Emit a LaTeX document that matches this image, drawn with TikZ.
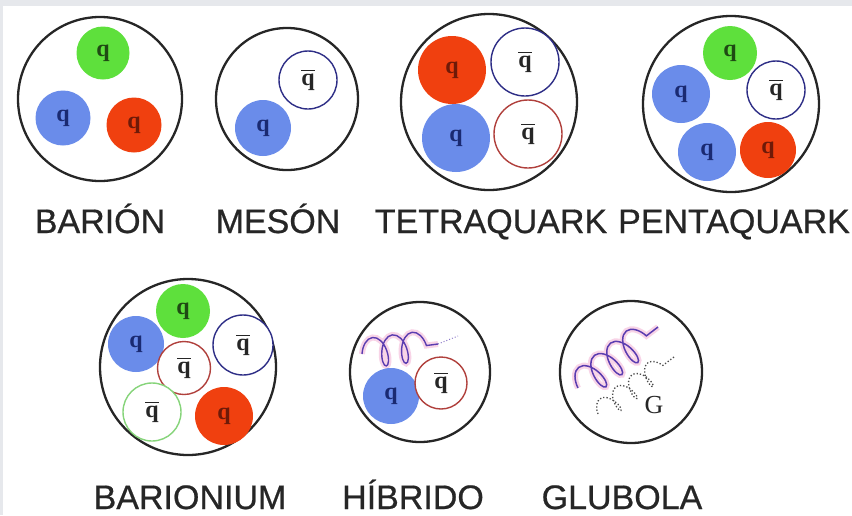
\documentclass[tikz,border=0pt]{standalone}
\usepackage{fontspec}
\setmainfont{Liberation Sans}
\newfontfamily\qfont{Liberation Serif}
\newfontfamily\labelfont[FakeBold=0.6]{Liberation Sans}
\usetikzlibrary{decorations.pathmorphing}

\definecolor{frame}{HTML}{E6E8EC}
\definecolor{qgreen}{HTML}{5EE03C}
\definecolor{qblue}{HTML}{6A8CEA}
\definecolor{qred}{HTML}{F0400F}
\definecolor{txgreen}{HTML}{1F4A14}
\definecolor{txblue}{HTML}{1A2A72}
\definecolor{txred}{HTML}{6E1A08}
\definecolor{abnavy}{HTML}{2E2E86}
\definecolor{abred}{HTML}{B0403C}
\definecolor{abgreen}{HTML}{86D47A}
\definecolor{gluon}{HTML}{5A3CB0}
\definecolor{gluonpink}{HTML}{F4B8D8}

% antiquark symbol: q with a bar over it
\newcommand\aq{\vbox{\hrule height 1.3pt\kern 3pt\hbox{q}}}

\begin{document}
\begin{tikzpicture}[x=1pt,y=-1pt,
  hadron/.style={circle, draw=black!85, line width=2.3pt, inner sep=0pt},
  quark/.style={circle, inner sep=0pt,
    font=\qfont\bfseries\fontsize{24}{24}\selectfont},
  qg/.style={quark, fill=qgreen, text=txgreen},
  qb/.style={quark, fill=qblue, text=txblue},
  qr/.style={quark, fill=qred, text=txred},
  anti/.style={quark, fill=white, line width=1.4pt, text=black!85},
  label/.style={font=\labelfont\fontsize{34}{34}\selectfont, text=black!85,
    anchor=base, inner sep=0pt},
  spring/.style={decorate, decoration={coil, amplitude=#1, segment length=20pt, aspect=0.5}}
]
\useasboundingbox (0,0) rectangle (852,515);
\fill[white] (0,0) rectangle (852,515);
\fill[frame] (0,0) rectangle (852,6);
\fill[frame] (0,0) rectangle (3,515);

% --- baryon
\node[hadron, minimum size=164pt] (barion) at (100,99) {};
\node[qg, minimum size=53pt] (b1) at (103,53) {q};
\node[qb, minimum size=55pt] (b2) at (63,118) {q};
\node[qr, minimum size=55pt] (b3) at (134,125) {q};
\node[label] (lbarion) at (100,233) {BARIÓN};

% --- meson
\node[hadron, minimum size=142pt] (meson) at (287,99) {};
\node[anti, draw=abnavy, minimum size=58pt] (m1) at (308,80) {\aq};
\node[qb, minimum size=56pt] (m2) at (263,128) {q};
\node[label] (lmeson) at (278,233) {MESÓN};

% --- tetraquark
\node[hadron, minimum size=176pt] (tetra) at (489,102) {};
\node[qr, minimum size=68pt] (t1) at (452,70) {q};
\node[qb, minimum size=68pt] (t2) at (456,138) {q};
\node[anti, draw=abnavy, minimum size=68pt] (t3) at (525,62) {\aq};
\node[anti, draw=abred, minimum size=68pt] (t4) at (528,134) {\aq};
\node[label] (ltetra) at (491,233) {TETRAQUARK};

% --- pentaquark
\node[hadron, minimum size=176pt] (penta) at (731,104) {};
\node[qg, minimum size=54pt] (p1) at (730,53) {q};
\node[qb, minimum size=58pt] (p2) at (681,94) {q};
\node[anti, draw=abnavy, minimum size=58pt] (p3) at (776,90) {\aq};
\node[qb, minimum size=58pt] (p4) at (707,152) {q};
\node[qr, minimum size=56pt] (p5) at (768,150) {q};
\node[label] (lpenta) at (734,233) {PENTAQUARK};

% --- baryonium
\node[hadron, minimum size=176pt] (barionium) at (188,367) {};
\node[qg, minimum size=54pt] (n1) at (183,311) {q};
\node[qb, minimum size=56pt] (n2) at (136,344) {q};
\node[anti, draw=abred, minimum size=53pt] (n3) at (184,368) {\aq};
\node[anti, draw=abnavy, minimum size=60pt] (n4) at (243,345) {\aq};
\node[anti, draw=abgreen, minimum size=58pt] (n5) at (152,412) {\aq};
\node[qr, minimum size=58pt] (n6) at (224,416) {q};
\node[label] (lbarionium) at (190,509) {BARIONIUM};

% --- hybrid
\node[hadron, minimum size=140pt] (hibrido) at (420,372) {};
\coordinate (hg1) at (362,354);
\coordinate (hg2) at (438,344);
\coordinate (hg3) at (458,336);
\draw[gluonpink, line width=6pt, opacity=0.6, spring=15pt] (hg1) -- (hg2);
\draw[gluon, line width=1.4pt, spring=15pt] (hg1) -- (hg2);
\draw[gluon!70, line width=1pt, dotted, spring=12pt] (hg2) -- (hg3);
\node[qb, minimum size=56pt] (h1) at (391,396) {q};
\node[anti, draw=abred, minimum size=52pt] (h2) at (441,383) {\aq};
\node[label] (lhibrido) at (413,509) {HÍBRIDO};

% --- glueball
\node[hadron, minimum size=142pt] (glubola) at (631,372) {};
\coordinate (ga1) at (578,388);
\coordinate (ga2) at (658,327);
\coordinate (gb1) at (598,414);
\coordinate (gb2) at (674,357);
\draw[gluonpink, line width=6pt, opacity=0.6, spring=16pt] (ga1) -- (ga2);
\draw[gluon, line width=1.5pt, spring=16pt] (ga1) -- (ga2);
\draw[black!70, line width=1.3pt, dotted, spring=11pt] (gb1) -- (gb2);
\node[font=\qfont\fontsize{26}{26}\selectfont, text=black!85] (gG) at (654,405) {G};
\node[label] (lglubola) at (622,509) {GLUBOLA};
\end{tikzpicture}
\end{document}
